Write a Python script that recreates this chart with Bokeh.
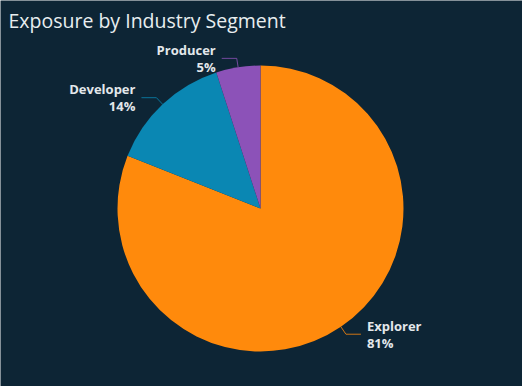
import numpy as np
from bokeh.plotting import figure
from bokeh.models import ColumnDataSource, Range1d, Label
from bokeh.core.properties import value
from bokeh.embed import file_html
from bokeh.resources import INLINE

title_text = "Exposure by Industry Segment"
segments = ["Explorer", "Developer", "Producer"]
shares = [81, 14, 5]
colors = ["#FF8A0C", "#0A87B3", "#8C52B8"]

BG = "#0d2535"
W, H = 522, 386
CX, CY, R = 260, 178, 143

p = figure(width=W, height=H, output_backend="svg", toolbar_location=None,
           x_range=Range1d(0, W), y_range=Range1d(0, H), min_border=0,
           background_fill_color=BG, border_fill_color=BG, outline_line_color=None)
p.axis.visible = False
p.grid.visible = False

frac = np.array(shares, dtype=float) / sum(shares)
cum = np.concatenate([[0], np.cumsum(frac)])
start = np.pi / 2 - 2 * np.pi * cum[:-1]
end = np.pi / 2 - 2 * np.pi * cum[1:]
mid = (start + end) / 2

src = ColumnDataSource(dict(start=start, end=end, color=colors))
p.wedge(x=CX, y=CY, radius=R, start_angle="start", end_angle="end",
        direction="clock", fill_color="color", line_color=None, source=src)

# leader lines and labels
for name, s, c, a in zip(segments, shares, colors, mid):
    x0, y0 = CX + R * np.cos(a), CY + R * np.sin(a)
    x1, y1 = CX + (R + 9) * np.cos(a), CY + (R + 9) * np.sin(a)
    right = np.cos(a) >= 0
    x2 = x1 + (15 if right else -15)
    p.line([x0, x1, x2], [y0, y1, y1], line_color=c, line_alpha=0.8, line_width=1)
    tx = x2 + (6 if right else -6)
    align = "left" if right else "right"
    for txt, dy in ((name, 8.5), (f"{s}%", -8.5)):
        p.text(x=[tx], y=[y1 + dy], text=[txt], text_align=align, text_baseline="middle",
               text_font=value("Open Sans"), text_font_size="13px", text_font_style="bold",
               text_color="#e3e8eb")

p.add_layout(Label(x=8, y=H - 20, x_units="screen", y_units="screen", text=title_text,
                   text_font="Open Sans", text_font_size="19.5px", text_color="#e8eef0",
                   text_baseline="middle", text_align="left"))

html = file_html(p, INLINE)
html = html.replace("<body>", f'<body style="background:{BG};margin:0;overflow:hidden">', 1)
open("out.html", "w").write(html)
